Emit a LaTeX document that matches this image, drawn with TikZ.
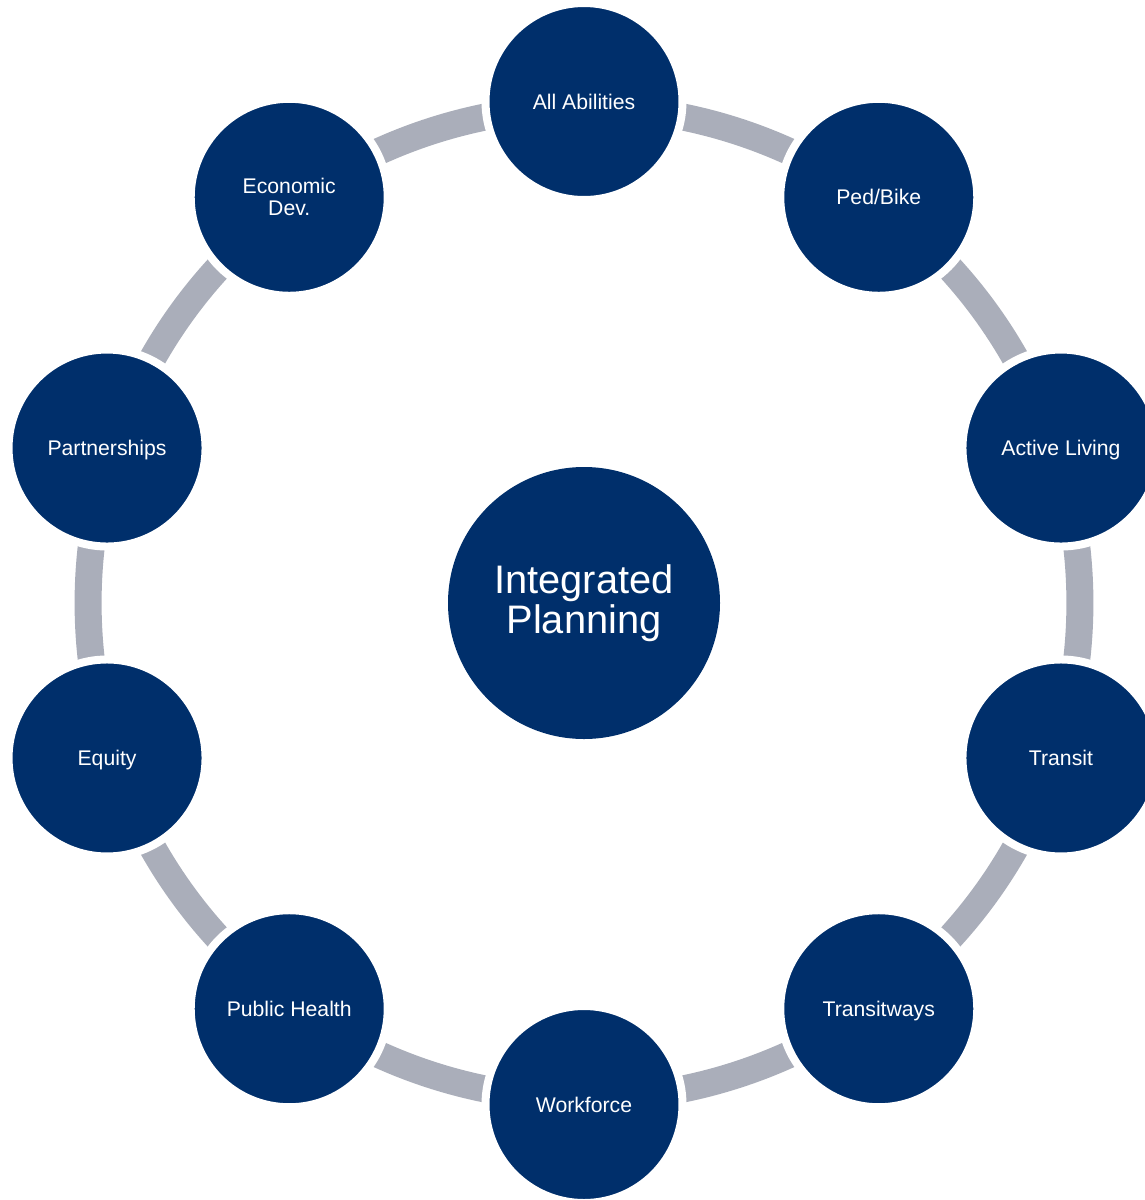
\documentclass[tikz,border=0pt]{standalone}
\usepackage{fontspec}
\setmainfont{Liberation Sans}
\usetikzlibrary{calc}
\definecolor{navy}{RGB}{0,47,107}
\definecolor{ringgrey}{RGB}{170,174,186}
\tikzset{
  ringseg/.style={draw=ringgrey, line width=27pt, bend left=18, looseness=0.873},
  item/.style={circle, fill=navy, draw=white, line width=8pt, minimum size=197pt,
    inner sep=0pt, text=white, font=\fontsize{21.2}{22}\selectfont, text depth=0pt},
  itemtwo/.style={circle, fill=navy, draw=white, line width=8pt, minimum size=197pt,
    inner sep=0pt, text=white, font=\fontsize{21.2}{22}\selectfont, align=center},
  hub/.style={circle, fill=navy, minimum size=272pt, inner sep=0pt, text=white,
    font=\fontsize{39.8}{40}\selectfont, align=center}
}
\begin{document}
\begin{tikzpicture}[x=1pt,y=1pt]
\useasboundingbox (0,0) rectangle (1145,-1200);
\coordinate (c) at (584,-603);
% ring anchor coordinates
\foreach \n/\a in {abilities/90,pedbike/54,active/18,transit/-18,transitways/-54,workforce/-90,health/-126,equity/-162,partner/162,econ/126}
  \coordinate (r-\n) at ($(c)+(\a:496)$);
% ring segments
\draw[ringseg] (r-abilities) to (r-pedbike);
\draw[ringseg] (r-pedbike) to (r-active);
\draw[ringseg] (r-active) to (r-transit);
\draw[ringseg] (r-transit) to (r-transitways);
\draw[ringseg] (r-transitways) to (r-workforce);
\draw[ringseg] (r-workforce) to (r-health);
\draw[ringseg] (r-health) to (r-equity);
\draw[ringseg] (r-equity) to (r-partner);
\draw[ringseg] (r-partner) to (r-econ);
\draw[ringseg] (r-econ) to (r-abilities);
% nodes
\node[hub] (hubnode) at (c) {Integrated\\Planning};
\node[item] (abilities) at ($(c)+(90:501.5)$) {All Abilities};
\node[item] (pedbike) at ($(c)+(54:501.5)$) {Ped/Bike};
\node[item] (active) at ($(c)+(18:501.5)$) {Active Living};
\node[item] (transit) at ($(c)+(-18:501.5)$) {Transit};
\node[item] (transitways) at ($(c)+(-54:501.5)$) {Transitways};
\node[item] (workforce) at ($(c)+(-90:501.5)$) {Workforce};
\node[item] (health) at ($(c)+(-126:501.5)$) {Public Health};
\node[item] (equity) at ($(c)+(-162:501.5)$) {Equity};
\node[item] (partner) at ($(c)+(162:501.5)$) {Partnerships};
\node[itemtwo] (econ) at ($(c)+(126:501.5)$) {Economic\\Dev.};
\end{tikzpicture}
\end{document}
